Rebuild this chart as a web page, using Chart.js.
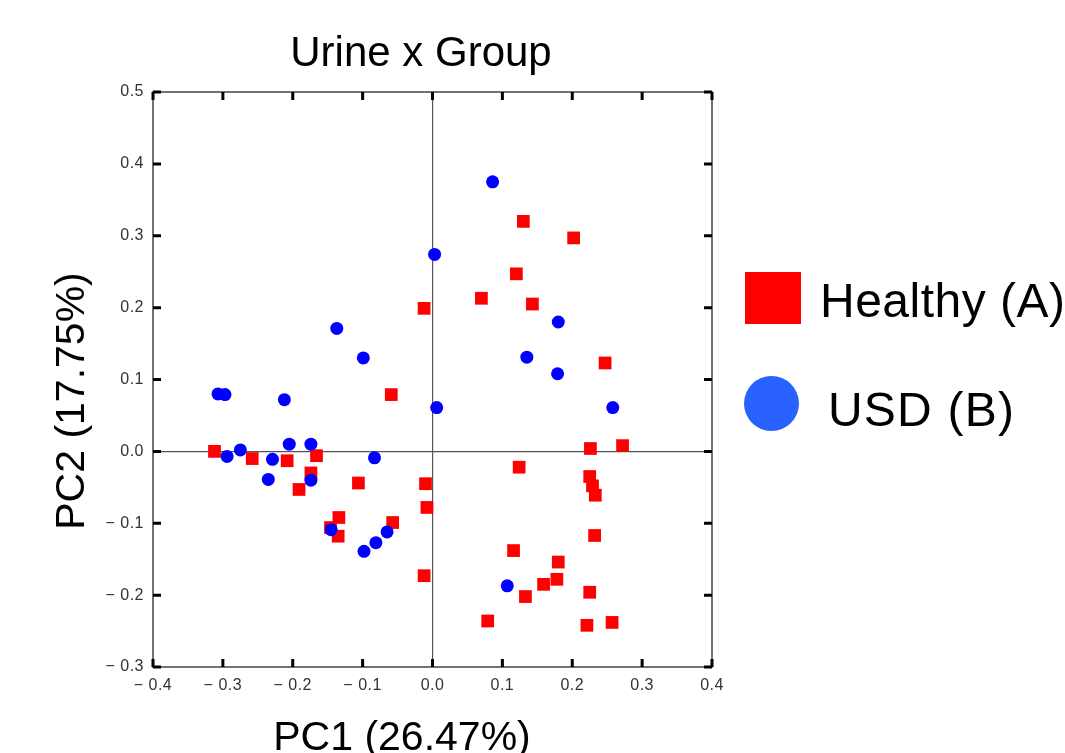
<!DOCTYPE html>
<html>
<head>
<meta charset="utf-8">
<script src="https://cdn.jsdelivr.net/npm/chart.js@4"></script>
<style>
  html, body { margin: 0; padding: 0; background: #fff; }
  #pca { display: block; }
</style>
</head>
<body>
<canvas id="pca" width="1065" height="753"></canvas>
<script>
// ---------- data ----------
const healthyX = [-0.012, 0.130, 0.202, 0.120, 0.070, 0.143, 0.247, -0.059, -0.312, -0.258,
  -0.208, -0.166, -0.174, -0.191, -0.106, -0.010, -0.008, -0.134, -0.135, -0.057,
  -0.012, 0.226, 0.272, 0.124, 0.225, 0.229, 0.233, 0.232, 0.116, 0.180,
  0.178, 0.159, 0.133, 0.225, 0.079, 0.221, 0.257, -0.146];
const healthyY = [0.199, 0.320, 0.297, 0.247, 0.213, 0.205, 0.123, 0.079, 0.000, -0.010,
  -0.013, -0.006, -0.030, -0.053, -0.044, -0.045, -0.078, -0.092, -0.118, -0.099,
  -0.173, 0.004, 0.008, -0.022, -0.035, -0.048, -0.061, -0.117, -0.138, -0.154,
  -0.178, -0.185, -0.202, -0.196, -0.236, -0.242, -0.238, -0.106];

const usdX = [0.003, -0.137, -0.099, 0.086, 0.180, 0.135, 0.179, -0.307, -0.297, -0.212,
  0.006, -0.205, -0.174, -0.294, -0.275, -0.229, -0.083, -0.235, -0.174, -0.145,
  -0.065, -0.081, -0.098, 0.258, 0.107];
const usdY = [0.274, 0.171, 0.130, 0.375, 0.180, 0.131, 0.108, 0.080, 0.079, 0.072,
  0.061, 0.010, 0.010, -0.007, 0.002, -0.011, -0.009, -0.039, -0.040, -0.109,
  -0.112, -0.127, -0.139, 0.061, -0.187];

const groupLabels = ['Healthy (A)', 'USD (B)'];
const xTitle = 'PC1 (26.47%)';
const yTitle = 'PC2 (17.75%)';
const chartTitle = 'Urine x Group';

const FONT = '"Liberation Sans", Arial, sans-serif';

function toPoints(xs, ys) {
  return xs.map((x, i) => ({ x: x, y: ys[i] }));
}

function tickText(v) {
  const a = Math.abs(v) < 1e-9 ? 0 : v;
  return (a < 0 ? '\u2212 ' : '') + Math.abs(a).toFixed(1);
}

// ---------- frame, inward ticks, titles and legend ----------
const decorPlugin = {
  id: 'decor',
  beforeDraw(chart) {
    // tick labels in the reference are slightly spread out
    chart.ctx.letterSpacing = '0.5px';
  },
  afterDraw(chart) {
    const ctx = chart.ctx;
    const a = chart.chartArea;
    const xs = chart.scales.x, ys = chart.scales.y;
    ctx.save();
    ctx.letterSpacing = '0px';

    // frame
    ctx.strokeStyle = '#444';
    ctx.lineWidth = 1.5;
    ctx.strokeRect(a.left, a.top, a.right - a.left, a.bottom - a.top);

    // inward tick marks on all four sides
    ctx.strokeStyle = '#000';
    ctx.lineWidth = 3;
    ctx.beginPath();
    xs.ticks.forEach(t => {
      const px = xs.getPixelForValue(t.value);
      ctx.moveTo(px, a.bottom); ctx.lineTo(px, a.bottom - 8);
      ctx.moveTo(px, a.top); ctx.lineTo(px, a.top + 8);
    });
    ys.ticks.forEach(t => {
      const py = ys.getPixelForValue(t.value);
      ctx.moveTo(a.left, py); ctx.lineTo(a.left + 8, py);
      ctx.moveTo(a.right, py); ctx.lineTo(a.right - 8, py);
    });
    ctx.stroke();

    // chart title
    ctx.fillStyle = '#000';
    ctx.font = '42px ' + FONT;
    ctx.textAlign = 'center';
    ctx.textBaseline = 'alphabetic';
    ctx.fillText(chartTitle, 421, 66);

    // axis titles
    ctx.font = '41px ' + FONT;
    ctx.fillText(xTitle, 402, 750);
    ctx.save();
    ctx.translate(84, 401);
    ctx.rotate(-Math.PI / 2);
    ctx.fillText(yTitle, 0, 0);
    ctx.restore();

    // legend
    ctx.textAlign = 'left';
    ctx.font = '48px ' + FONT;
    ctx.letterSpacing = '0.5px';
    ctx.fillStyle = '#ff0000';
    ctx.fillRect(745, 272, 56, 52);
    ctx.fillStyle = '#000';
    ctx.fillText(groupLabels[0], 820, 317);

    ctx.fillStyle = '#2962ff';
    ctx.beginPath();
    ctx.arc(771.5, 403.5, 27.5, 0, Math.PI * 2);
    ctx.fill();
    ctx.fillStyle = '#000';
    ctx.letterSpacing = '1.2px';
    ctx.fillText(groupLabels[1], 828, 426);

    ctx.restore();
  }
};

const zeroLine = c => (c.tick && Math.abs(c.tick.value) < 1e-9) ? '#555' : 'rgba(0,0,0,0)';

new Chart(document.getElementById('pca').getContext('2d'), {
  type: 'scatter',
  data: {
    datasets: [
      {
        label: groupLabels[1],
        data: toPoints(usdX, usdY),
        pointStyle: 'circle',
        pointRadius: 6.5,
        pointBorderWidth: 0,
        backgroundColor: '#0000ff',
        borderColor: '#0000ff',
        order: 0
      },
      {
        label: groupLabels[0],
        data: toPoints(healthyX, healthyY),
        pointStyle: 'rect',
        pointRadius: 9,
        pointBorderWidth: 0,
        backgroundColor: '#ff0000',
        borderColor: '#ff0000',
        order: 1
      }
    ]
  },
  options: {
    responsive: false,
    animation: false,
    layout: { padding: { left: 0, right: 353, top: 92, bottom: 0 } },
    plugins: {
      legend: { display: false },
      title: { display: false },
      tooltip: { enabled: false }
    },
    scales: {
      x: {
        type: 'linear',
        min: -0.4,
        max: 0.4,
        afterFit: s => { s.height = 86; },
        border: { display: false },
        grid: { color: zeroLine, lineWidth: 1.2, drawTicks: false },
        ticks: {
          stepSize: 0.1,
          padding: 9,
          color: '#333',
          font: { family: FONT, size: 16 },
          callback: v => tickText(v)
        }
      },
      y: {
        type: 'linear',
        min: -0.3,
        max: 0.5,
        afterFit: s => { s.width = 153; },
        border: { display: false },
        grid: { color: zeroLine, lineWidth: 1.2, drawTicks: false },
        ticks: {
          stepSize: 0.1,
          padding: 9,
          color: '#333',
          font: { family: FONT, size: 16 },
          callback: v => tickText(v)
        }
      }
    }
  },
  plugins: [decorPlugin]
});
</script>
</body>
</html>
